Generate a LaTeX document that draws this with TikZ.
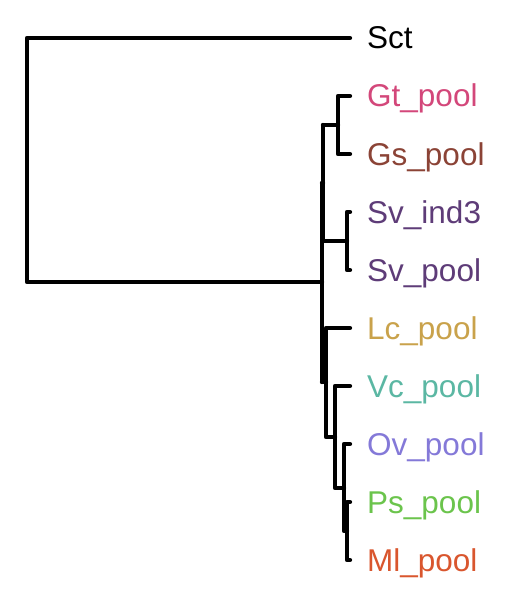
\documentclass[tikz,border=0pt]{standalone}
\usepackage{fontspec}
\setmainfont{Liberation Sans}
\definecolor{cGt}{HTML}{D3477A}
\definecolor{cGs}{HTML}{8B4336}
\definecolor{cSv}{HTML}{5E3C78}
\definecolor{cLc}{HTML}{C9A24B}
\definecolor{cVc}{HTML}{5BB7A3}
\definecolor{cOv}{HTML}{8479D8}
\definecolor{cPs}{HTML}{6BC44C}
\definecolor{cMl}{HTML}{D9562E}
\tikzset{
  edge/.style={line width=4.3pt, line cap=round, line join=round},
  tiplab/.style={anchor=base west, inner sep=0pt, font=\fontsize{31.5}{35}\selectfont}
}
\begin{document}
\begin{tikzpicture}[x=1pt,y=-1pt]
\useasboundingbox (0,0) rectangle (518,596);
% tips
\coordinate (tSct) at (350,38);
\coordinate (tGt) at (350,96);
\coordinate (tGs) at (350,154);
\coordinate (tSvi) at (350,212);
\coordinate (tSvp) at (350,270);
\coordinate (tLc) at (350,328);
\coordinate (tVc) at (350,386);
\coordinate (tOv) at (350,444);
\coordinate (tPs) at (350,502);
\coordinate (tMl) at (350,560);
% internal nodes
\coordinate (root) at (27,282);
\coordinate (nI) at (322,282);
\coordinate (nGS) at (323,183);
\coordinate (nG) at (338,125);
\coordinate (nS) at (347,241);
\coordinate (nL) at (326,382);
\coordinate (nV) at (335,437);
\coordinate (nO) at (344,488);
\coordinate (nP) at (347,531);
% labels
\node[tiplab] (lSct) at (367,49) {Sct};
\node[tiplab,text=cGt] (lGt) at (367,107) {Gt\_pool};
\node[tiplab,text=cGs] (lGs) at (367,165) {Gs\_pool};
\node[tiplab,text=cSv] (lSvi) at (367,223) {Sv\_ind3};
\node[tiplab,text=cSv] (lSvp) at (367,281) {Sv\_pool};
\node[tiplab,text=cLc] (lLc) at (367,339) {Lc\_pool};
\node[tiplab,text=cVc] (lVc) at (367,397) {Vc\_pool};
\node[tiplab,text=cOv] (lOv) at (367,455) {Ov\_pool};
\node[tiplab,text=cPs] (lPs) at (367,513) {Ps\_pool};
\node[tiplab,text=cMl] (lMl) at (367,571) {Ml\_pool};
% edges
\draw[edge] (tSct) -| (root) -- (nI);
\draw[edge] (nGS) |- (nI |- nGS);
\draw[edge] (nI |- nGS) -- (nI |- nL);
\draw[edge] (nI |- nL) -- (nL);
\draw[edge] (nGS |- nG) -- (nGS |- nS);
\draw[edge] (nGS |- nG) -- (nG);
\draw[edge] (nGS |- nS) -- (nS);
\draw[edge] (tGt) -| (nG) |- (tGs);
\draw[edge] (tSvi) -| (nS) |- (tSvp);
\draw[edge] (tLc) -| (nL) |- (nV);
\draw[edge] (tVc) -| (nV) |- (nO);
\draw[edge] (tOv) -| (nO) |- (nP);
\draw[edge] (tPs) -| (nP) |- (tMl);
\end{tikzpicture}
\end{document}
